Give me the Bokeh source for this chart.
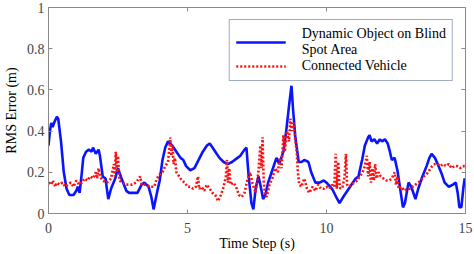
from bokeh.plotting import figure
from bokeh.models import (LinearAxis, FixedTicker, CustomJSTickFormatter, Legend,
                          LegendItem, Range1d, ColumnDataSource)
from bokeh.embed import file_html
from bokeh.resources import INLINE

# ---------------- data ----------------
blue_x = [0.0, 0.05, 0.1, 0.15, 0.2, 0.3, 0.35, 0.45, 0.55, 0.65, 0.75, 0.9, 1.0, 1.05, 1.12,
          1.2, 1.25, 1.35, 1.45, 1.55, 1.6, 1.7, 1.8, 1.85, 1.95, 2.05, 2.15, 2.25, 2.4, 2.5,
          2.6, 2.8, 2.9, 3.2, 3.35, 3.45, 3.6, 3.7, 3.78, 3.9, 4.0, 4.1, 4.2, 4.3, 4.38, 4.45,
          4.6, 4.75, 4.85, 4.95, 5.1, 5.25, 5.4, 5.55, 5.7, 5.8, 5.9, 6.0, 6.15, 6.3, 6.45,
          6.6, 6.8, 6.9, 7.05, 7.12, 7.2, 7.3, 7.37, 7.45, 7.55, 7.62, 7.72, 7.8, 7.9, 8.05,
          8.2, 8.3, 8.45, 8.55, 8.65, 8.74, 8.8, 8.88, 8.95, 9.0, 9.1, 9.2, 9.35, 9.45, 9.6,
          9.75, 9.9, 10.0, 10.2, 10.35, 10.47, 10.6, 10.8, 10.95, 11.05, 11.15, 11.28, 11.38,
          11.5, 11.55, 11.62, 11.72, 11.82, 11.92, 12.0, 12.1, 12.2, 12.28, 12.35, 12.45,
          12.55, 12.65, 12.75, 12.82, 12.95, 13.05, 13.2, 13.3, 13.45, 13.6, 13.7, 13.78,
          13.9, 14.0, 14.15, 14.25, 14.4, 14.55, 14.65, 14.72, 14.78, 14.85, 14.92, 14.97, 15.0]
blue_y = [0.33, 0.40, 0.44, 0.42, 0.44, 0.47, 0.46, 0.35, 0.20, 0.12, 0.09, 0.09, 0.11, 0.13, 0.10,
          0.20, 0.27, 0.30, 0.31, 0.30, 0.32, 0.29, 0.31, 0.28, 0.18, 0.17, 0.07, 0.12, 0.17, 0.22,
          0.18, 0.11, 0.10, 0.10, 0.14, 0.15, 0.13, 0.08, 0.02, 0.10, 0.16, 0.26, 0.32, 0.35, 0.34, 0.33,
          0.30, 0.27, 0.26, 0.23, 0.21, 0.22, 0.26, 0.30, 0.33, 0.34, 0.32, 0.30, 0.27, 0.25, 0.24,
          0.25, 0.27, 0.28, 0.31, 0.32, 0.18, 0.05, 0.02, 0.12, 0.18, 0.14, 0.07, 0.09, 0.15, 0.21,
          0.27, 0.24, 0.30, 0.40, 0.52, 0.62, 0.50, 0.37, 0.30, 0.25, 0.25, 0.26, 0.25, 0.20, 0.15,
          0.15, 0.16, 0.15, 0.12, 0.08, 0.05, 0.08, 0.12, 0.15, 0.17, 0.18, 0.26, 0.33,
          0.37, 0.38, 0.35, 0.36, 0.34, 0.36, 0.35, 0.36, 0.34, 0.30, 0.26, 0.27,
          0.21, 0.12, 0.03, 0.05, 0.15, 0.13, 0.07, 0.12, 0.18, 0.23, 0.27, 0.29,
          0.27, 0.24, 0.19, 0.15, 0.13, 0.14, 0.15, 0.10, 0.03, 0.03, 0.12, 0.17, 0.14]

red_x = [0.0, 0.1, 0.15, 0.25, 0.3, 0.4, 0.5, 0.6, 0.7, 0.8, 0.9, 1.0, 1.1, 1.2, 1.3, 1.4, 1.5,
         1.6, 1.7, 1.75, 1.8, 1.85, 1.95, 2.1, 2.25, 2.35, 2.38, 2.42, 2.46, 2.5, 2.55, 2.65,
         2.8, 3.0, 3.15, 3.3, 3.35, 3.5, 3.65, 3.8, 3.9, 4.0, 4.1, 4.2, 4.3, 4.38, 4.42, 4.46,
         4.5, 4.55, 4.6, 4.7, 4.8, 4.9, 5.0, 5.1, 5.2, 5.3, 5.38, 5.42, 5.5, 5.6, 5.7, 5.8,
         5.9, 6.0, 6.1, 6.2, 6.3, 6.38, 6.42, 6.46, 6.5, 6.55, 6.65, 6.75, 6.85, 6.95, 7.05,
         7.15, 7.25, 7.35, 7.45, 7.55, 7.62, 7.66, 7.7, 7.74, 7.78, 7.85, 7.95, 8.05, 8.15,
         8.25, 8.32, 8.38, 8.45, 8.5, 8.58, 8.65, 8.7, 8.76, 8.82, 8.88, 8.93, 8.97, 9.02,
         9.1, 9.2, 9.3, 9.38, 9.5, 9.6, 9.7, 9.8, 9.9, 10.0, 10.1, 10.2, 10.28, 10.33, 10.37,
         10.42, 10.46, 10.5, 10.58, 10.65, 10.7, 10.74, 10.8, 10.9, 11.0, 11.1, 11.2, 11.3,
         11.38, 11.45, 11.5, 11.55, 11.6, 11.65, 11.7, 11.75, 11.8, 11.88, 11.95, 12.05,
         12.15, 12.25, 12.35, 12.45, 12.5, 12.55, 12.6, 12.7, 12.8, 12.9, 13.0, 13.1, 13.2,
         13.3, 13.4, 13.5, 13.6, 13.7, 13.8, 13.9, 14.0, 14.1, 14.2, 14.3, 14.4, 14.5, 14.6,
         14.7, 14.8, 14.9, 15.0]
red_y = [0.15, 0.14, 0.16, 0.13, 0.15, 0.14, 0.15, 0.13, 0.14, 0.15, 0.13, 0.16, 0.14, 0.15, 0.17, 0.16, 0.18,
         0.17, 0.20, 0.17, 0.22, 0.18, 0.16, 0.15, 0.17, 0.24, 0.18, 0.30, 0.20, 0.28, 0.16, 0.15,
         0.14, 0.14, 0.15, 0.18, 0.14, 0.14, 0.13, 0.13, 0.17, 0.19, 0.20, 0.23, 0.25, 0.37, 0.28, 0.33,
         0.24, 0.27, 0.20, 0.18, 0.16, 0.15, 0.13, 0.13, 0.12, 0.13, 0.18, 0.12, 0.13, 0.11, 0.14, 0.12,
         0.10, 0.09, 0.06, 0.09, 0.13, 0.18, 0.26, 0.15, 0.22, 0.14, 0.15, 0.13, 0.09, 0.08, 0.10,
         0.16, 0.20, 0.14, 0.10, 0.20, 0.33, 0.22, 0.37, 0.16, 0.10, 0.08, 0.14, 0.17, 0.22,
         0.20, 0.27, 0.22, 0.38, 0.30, 0.40, 0.35, 0.46, 0.40, 0.44, 0.35, 0.30, 0.20, 0.14,
         0.13, 0.17, 0.12, 0.10, 0.13, 0.11, 0.14, 0.12, 0.12, 0.13, 0.12, 0.14, 0.13, 0.29, 0.12,
         0.25, 0.15, 0.12, 0.13, 0.18, 0.29, 0.14, 0.13, 0.14, 0.15, 0.16, 0.18, 0.20,
         0.23, 0.28, 0.18, 0.25, 0.15, 0.22, 0.16, 0.24, 0.17, 0.20, 0.18, 0.17,
         0.16, 0.16, 0.17, 0.20, 0.14, 0.18, 0.12, 0.13, 0.11, 0.12, 0.12, 0.13, 0.14,
         0.15, 0.16, 0.18, 0.19, 0.21, 0.23, 0.24, 0.24, 0.23, 0.24, 0.23, 0.24, 0.22, 0.23,
         0.23, 0.22, 0.23, 0.23]

x_ticks = [0, 5, 10, 15]
y_ticks = [0, 0.2, 0.4, 0.6, 0.8, 1]
blue_label = "Dynamic Object on Blind\nSpot Area"
red_label = "Connected Vehicle"
x_title = "Time Step (s)"
y_title = "RMS Error (m)"

# ---------------- style ----------------
FONT = "Liberation Serif"
AXIS_COL = "#8a8a8a"
TICKLAB_COL = "#444444"

p = figure(width=474, height=254, output_backend="svg", toolbar_location=None,
           x_range=Range1d(0, 15), y_range=Range1d(0, 1),
           x_axis_location=None, y_axis_location=None,
           min_border_left=0, min_border_right=9, min_border_top=7, min_border_bottom=41)
p.xgrid.visible = False
p.ygrid.visible = False
p.outline_line_color = AXIS_COL
p.background_fill_color = "white"
p.border_fill_color = "white"

fmt_y = CustomJSTickFormatter(code="return (Math.round(tick*10)/10).toString();")
fmt_x = CustomJSTickFormatter(code="return Math.round(tick).toString();")
fmt_none = CustomJSTickFormatter(code="return '';")


def style(ax, labels=True):
    ax.axis_line_color = AXIS_COL
    ax.major_tick_line_color = AXIS_COL
    ax.major_tick_in = 4
    ax.major_tick_out = 0
    ax.minor_tick_in = 0
    ax.minor_tick_out = 0
    ax.major_label_text_font = FONT
    ax.major_label_text_font_size = "14px"
    ax.major_label_text_color = TICKLAB_COL
    ax.axis_label_text_font = FONT
    ax.axis_label_text_font_size = "14px"
    ax.axis_label_text_font_style = "normal"
    ax.axis_label_text_color = "black"
    if not labels:
        ax.major_label_standoff = 0


xb = LinearAxis(ticker=FixedTicker(ticks=x_ticks), formatter=fmt_x, axis_label=x_title)
style(xb)
xb.major_label_standoff = 9
xb.axis_label_standoff = 0
p.add_layout(xb, "below")

yl = LinearAxis(ticker=FixedTicker(ticks=y_ticks), formatter=fmt_y, axis_label=y_title)
style(yl)
yl.major_label_standoff = 4
yl.axis_label_standoff = 5
p.add_layout(yl, "left")

xt = LinearAxis(ticker=FixedTicker(ticks=x_ticks), formatter=fmt_none)
style(xt, labels=False)
p.add_layout(xt, "above")

yr = LinearAxis(ticker=FixedTicker(ticks=y_ticks), formatter=fmt_none)
style(yr, labels=False)
p.add_layout(yr, "right")

src_b = ColumnDataSource(dict(x=blue_x, y=blue_y))
src_r = ColumnDataSource(dict(x=red_x, y=red_y))
rb = p.line("x", "y", source=src_b, line_color="#0a14ff", line_width=2.6)
rr = p.line("x", "y", source=src_r, line_color="#ff1010", line_width=2.6, line_dash="2 2")

leg = Legend(items=[LegendItem(label=blue_label, renderers=[rb]),
                    LegendItem(label=red_label, renderers=[rr])],
             location="top_right", margin=12, padding=6, spacing=0,
             glyph_width=50, glyph_height=16, label_standoff=16, label_height=16,
             label_text_font=FONT, label_text_font_size="14px", label_text_color="black",
             border_line_color="#3d5a85", border_line_width=1,
             background_fill_color="white", background_fill_alpha=1)
p.add_layout(leg)

open("out.html", "w").write(file_html(p, INLINE))
